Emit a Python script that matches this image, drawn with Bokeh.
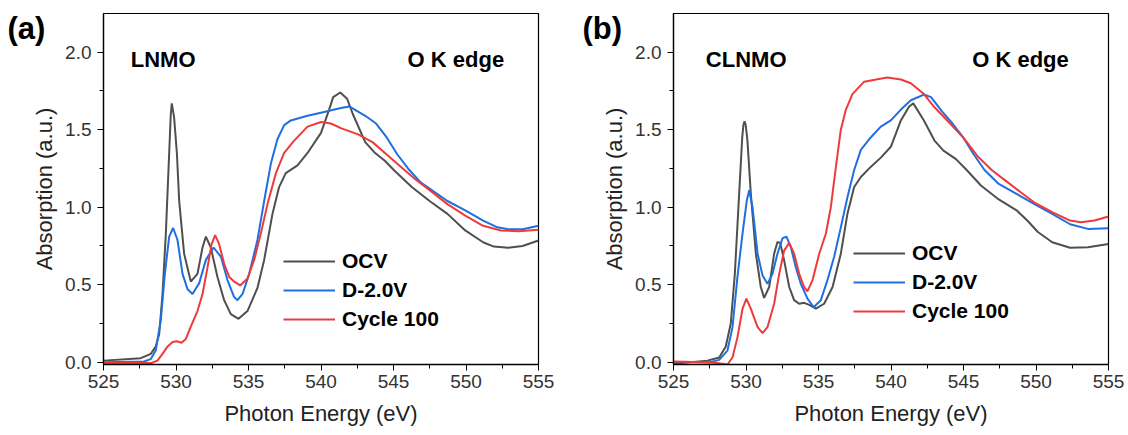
from bokeh.plotting import figure
from bokeh.models import Range1d, FixedTicker, Label, Legend, LegendItem, PrintfTickFormatter
from bokeh.layouts import row
from bokeh.embed import file_html
from bokeh.resources import INLINE

# ---------------- data ----------------
a_ocv_x = [525, 527.57, 528.26, 528.6, 528.84, 529.07, 529.3, 529.53, 529.64, 529.71, 529.87, 530.06, 530.22, 530.56,
           531.02, 531.48, 531.83, 532.06, 532.4, 532.86, 533.32, 533.78, 534.31, 534.93, 535.62, 536.08, 536.66, 537.11,
           537.57, 538.38, 539.07, 540.0, 540.56, 540.84, 541.33, 541.8, 542.2, 543.05, 543.67, 544.4, 545.02, 546.26,
           547.49, 548.72, 549.95, 551.18, 551.92, 552.9, 553.9, 555]
a_ocv_y = [0.01, 0.026, 0.054, 0.10, 0.18, 0.44, 0.83, 1.35, 1.60, 1.67, 1.58, 1.35, 1.04, 0.70, 0.52, 0.57, 0.74, 0.81,
           0.74, 0.55, 0.40, 0.31, 0.28, 0.33, 0.48, 0.66, 0.96, 1.13, 1.22, 1.27, 1.35, 1.48, 1.63, 1.71, 1.74, 1.70,
           1.60, 1.42, 1.355, 1.30, 1.24, 1.13, 1.04, 0.957, 0.85, 0.774, 0.746, 0.738, 0.75, 0.785]

a_d2_x = [525, 527.8, 528.26, 528.6, 528.95, 529.23, 529.53, 529.8, 530.1, 530.45, 530.8, 531.14, 531.6, 532.06, 532.59,
          533.1, 533.55, 534.01, 534.24, 534.59, 535.05, 535.62, 536.08, 536.54, 537.0, 537.46, 537.92, 539.07, 540.22,
          541.37, 541.95, 543.05, 543.8, 544.53, 545.27, 546.0, 546.87, 547.49, 548.72, 549.95, 551.18, 552.17, 552.9,
          553.9, 555]
a_d2_y = [0.0, 0.004, 0.02, 0.075, 0.27, 0.57, 0.81, 0.866, 0.79, 0.57, 0.47, 0.44, 0.51, 0.66, 0.74, 0.68, 0.53, 0.42,
          0.40, 0.44, 0.57, 0.79, 1.04, 1.28, 1.44, 1.53, 1.56, 1.59, 1.615, 1.64, 1.65, 1.59, 1.54, 1.45, 1.34, 1.25,
          1.16, 1.12, 1.04, 0.98, 0.914, 0.87, 0.858, 0.858, 0.88]

a_c100_x = [525, 528.3, 528.72, 529.07, 529.41, 529.76, 530.06, 530.38, 530.68, 531.02, 531.48, 531.83, 532.17, 532.45,
            532.7, 532.98, 533.32, 533.67, 534.01, 534.43, 534.93, 535.39, 535.85, 536.31, 536.89, 537.46, 538.15, 539.07,
            540.0, 540.68, 541.37, 542.56, 543.55, 544.53, 545.52, 546.5, 547.49, 548.72, 549.95, 551.18, 552.41, 553.64,
            555]
a_c100_y = [-0.005, -0.005, 0.01, 0.054, 0.10, 0.13, 0.135, 0.125, 0.15, 0.23, 0.33, 0.44, 0.61, 0.76, 0.82, 0.76, 0.635,
            0.55, 0.52, 0.495, 0.54, 0.66, 0.83, 1.02, 1.22, 1.35, 1.43, 1.52, 1.55, 1.54, 1.51, 1.47, 1.42, 1.34, 1.26,
            1.18, 1.11, 1.02, 0.946, 0.88, 0.85, 0.845, 0.855]

b_ocv_x = [525, 527.34, 528.15, 528.6, 528.95, 529.23, 529.53, 529.74, 529.82, 529.9, 529.98, 530.1, 530.33, 530.68,
           531.02, 531.25, 531.6, 531.94, 532.17, 532.36, 532.63, 532.98, 533.32, 533.67, 534.01, 534.36, 534.82, 535.39,
           535.97, 536.54, 537.0, 537.46, 537.92, 538.6, 539.3, 539.99, 540.68, 541.25, 541.54, 542.27, 543.0, 543.62,
           544.48, 545.22, 546.2, 547.43, 548.66, 549.4, 550.13, 551.12, 552.35, 553.58, 555]
b_ocv_y = [-0.01, 0.01, 0.03, 0.10, 0.25, 0.57, 1.09, 1.45, 1.53, 1.555, 1.53, 1.43, 1.09, 0.70, 0.485, 0.415, 0.485,
           0.70, 0.775, 0.77, 0.657, 0.485, 0.40, 0.377, 0.383, 0.37, 0.345, 0.377, 0.485, 0.70, 0.96, 1.13, 1.195, 1.26,
           1.32, 1.39, 1.56, 1.65, 1.67, 1.56, 1.43, 1.365, 1.31, 1.24, 1.14, 1.05, 0.98, 0.914, 0.84, 0.774, 0.738,
           0.742, 0.763]

b_d2_x = [525, 527.5, 528.15, 528.72, 529.07, 529.41, 529.76, 530.06, 530.22, 530.45, 530.8, 531.14, 531.48, 531.83,
          532.17, 532.52, 532.79, 533.1, 533.44, 533.78, 534.24, 534.66, 535.16, 535.62, 536.08, 536.54, 537.0, 537.46,
          537.92, 538.6, 539.3, 539.99, 540.68, 541.37, 542.27, 542.76, 543.5, 544.24, 544.98, 545.71, 546.45, 547.43,
          548.66, 549.89, 551.12, 552.35, 553.58, 555]
b_d2_y = [0.0, 0.0, 0.015, 0.075, 0.226, 0.55, 0.83, 1.045, 1.11, 1.0, 0.70, 0.56, 0.506, 0.57, 0.70, 0.80, 0.81, 0.74,
          0.61, 0.506, 0.41, 0.355, 0.40, 0.53, 0.68, 0.87, 1.066, 1.24, 1.37, 1.45, 1.52, 1.56, 1.63, 1.69, 1.727, 1.71,
          1.62, 1.54, 1.45, 1.34, 1.24, 1.15, 1.086, 1.02, 0.957, 0.89, 0.86, 0.865]

b_c100_x = [525, 527.1, 528.03, 528.72, 529.07, 529.41, 529.76, 530.03, 530.33, 530.8, 531.14, 531.48, 531.94, 532.29,
            532.63, 532.98, 533.32, 533.67, 534.01, 534.24, 534.59, 535.05, 535.51, 535.85, 536.2, 536.54, 536.89, 537.34,
            538.15, 539.07, 539.76, 540.68, 541.37, 542.27, 543.0, 543.98, 544.98, 545.96, 546.94, 547.92, 548.9, 549.89,
            551.12, 552.35, 553.1, 554.03, 555]
b_c100_y = [0.004, 0.0, -0.006, -0.015, 0.03, 0.16, 0.345, 0.41, 0.345, 0.226, 0.187, 0.226, 0.377, 0.57, 0.72, 0.77,
            0.70, 0.57, 0.485, 0.457, 0.53, 0.70, 0.83, 1.0, 1.26, 1.50, 1.63, 1.73, 1.81, 1.826, 1.837, 1.824, 1.80, 1.73,
            1.645, 1.55, 1.45, 1.33, 1.24, 1.17, 1.10, 1.03, 0.968, 0.914, 0.903, 0.914, 0.94]

series_labels = ["OCV", "D-2.0V", "Cycle 100"]
series_colors = ["#4f4f4f", "#1f6fe0", "#f03a3a"]
x_ticks = [525, 530, 535, 540, 545, 550, 555]
x_minor = [527.5, 532.5, 537.5, 542.5, 547.5, 552.5]
y_ticks = [0.0, 0.5, 1.0, 1.5, 2.0]
y_minor = [0.25, 0.75, 1.25, 1.75]

FONT = "Liberation Sans"


def make_panel(series, width, left, right, tag, tag_offset, sample, sample_x, edge_x, legend_vy):
    p = figure(width=width, height=434, output_backend="svg", toolbar_location=None,
               x_range=Range1d(525, 555), y_range=Range1d(-0.015, 2.25),
               min_border_left=left, min_border_right=right, min_border_top=13, min_border_bottom=70)
    p.grid.visible = False
    p.outline_line_color = "black"
    p.outline_line_width = 1.2
    p.xaxis.ticker = FixedTicker(ticks=x_ticks, minor_ticks=x_minor)
    p.yaxis.ticker = FixedTicker(ticks=y_ticks, minor_ticks=y_minor)
    p.yaxis.formatter = PrintfTickFormatter(format="%.1f")
    for ax in (p.xaxis[0], p.yaxis[0]):
        ax.axis_line_color = "black"
        ax.axis_line_width = 1.3
        ax.major_tick_line_color = "black"
        ax.minor_tick_line_color = "black"
        ax.major_tick_out = 6
        ax.major_tick_in = 0
        ax.minor_tick_out = 4
        ax.minor_tick_in = 0
        ax.major_label_text_font = FONT
        ax.major_label_text_font_size = "19px"
        ax.major_label_text_color = "#333333"
        ax.axis_label_text_font = FONT
        ax.axis_label_text_font_size = "22px"
        ax.axis_label_text_font_style = "normal"
        ax.axis_label_text_color = "#222222"
    p.xaxis.axis_label = "Photon Energy (eV)"
    p.yaxis.axis_label = "Absorption (a.u.)"
    p.xaxis.major_label_standoff = 4
    p.xaxis.axis_label_standoff = 10
    p.yaxis.major_label_standoff = 6
    p.yaxis.axis_label_standoff = 5

    # panel tag, drawn as the plot title and shifted into the top-left corner
    p.title.text = tag
    p.title.align = "left"
    p.title.vertical_align = "bottom"
    p.title.offset = tag_offset
    p.title.standoff = -64
    p.title.text_font = FONT
    p.title.text_font_size = "31px"
    p.title.text_font_style = "bold"
    p.title.text_color = "black"

    items = []
    for (xs, ys), lab, col in zip(series, series_labels, series_colors):
        r = p.line(xs, ys, line_color=col, line_width=2)
        items.append(LegendItem(label=lab, renderers=[r]))
    leg = Legend(items=items, location=(180, legend_vy), padding=0, margin=0, spacing=5,
                 glyph_width=52, glyph_height=24, label_height=24, label_standoff=7,
                 label_text_font=FONT, label_text_font_size="21px", label_text_font_style="bold",
                 label_text_color="black", background_fill_alpha=0, border_line_alpha=0)
    p.add_layout(leg)

    p.add_layout(Label(x=sample_x, y=1.95, text=sample, text_font=FONT, text_font_size="22px",
                       text_font_style="bold", text_color="black", text_baseline="alphabetic"))
    p.add_layout(Label(x=edge_x, y=1.955, text="O K edge", text_font=FONT, text_font_size="22px",
                       text_font_style="bold", text_color="black", text_baseline="alphabetic"))
    return p


pa = make_panel([(a_ocv_x, a_ocv_y), (a_d2_x, a_d2_y), (a_c100_x, a_c100_y)], 568, 103, 30,
                "(a)", -96, "LNMO", 526.88, 545.97, 33)
pb = make_panel([(b_ocv_x, b_ocv_y), (b_d2_x, b_d2_y), (b_c100_x, b_c100_y)], 560, 105, 20,
                "(b)", -91, "CLNMO", 527.23, 545.6, 41)

layout = row(pa, pb)
open("out.html", "w").write(file_html(layout, INLINE))
